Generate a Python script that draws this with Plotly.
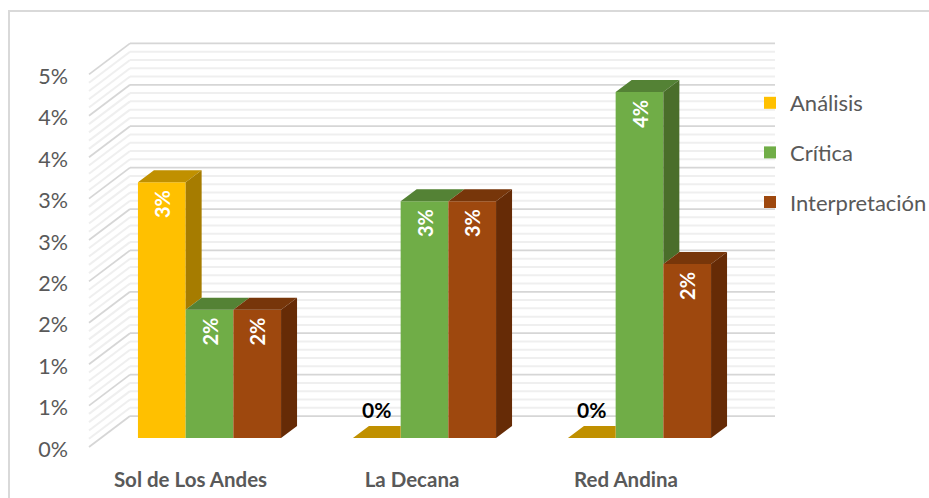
import plotly.graph_objects as go

CATEGORIES = ["Sol de Los Andes", "La Decana", "Red Andina"]
SERIES_NAMES = ["Análisis", "Crítica", "Interpretación"]
ANALISIS = [3.09, 0, 0]
CRITICA = [1.55, 2.86, 4.18]
INTERPRETACION = [1.55, 2.86, 2.10]
VALUE_LABELS = [["3%", "0%", "0%"], ["2%", "3%", "4%"], ["2%", "3%", "2%"]]
Y_TICKS = [0, 0.5, 1, 1.5, 2, 2.5, 3, 3.5, 4, 4.5]
Y_TICK_LABELS = ["0%", "1%", "1%", "2%", "2%", "3%", "3%", "4%", "4%", "5%"]

FRONT = ["#FFC000", "#70AD47", "#9E480E"]
TOP = ["#C09000", "#548235", "#77360A"]
SIDE = ["#A67C00", "#4A6E2A", "#662B06"]

# pixel scale of the axes
PX_X, PX_Y = 215.0, 82.8
ML, MB = 75, 33
W, H = 929, 498
ORIGIN_X, ORIGIN_Y = 209.5, 447.0   # pixel where x=0, y=0
ux = lambda p: p / PX_X
uy = lambda p: p / PX_Y

FLOOR = uy(9)
BAR_W = ux(47.7)
GROUP = 3 * BAR_W
BAR_DX, BAR_DY = ux(16), uy(12)
WALL_DX, WALL_DY = ux(41), uy(31)
WALL_L = ux(89 - ORIGIN_X)
WALL_R = ux(775 - ORIGIN_X)

values = [ANALISIS, CRITICA, INTERPRETACION]
fig = go.Figure()

for s, (name, vals) in enumerate(zip(SERIES_NAMES, values)):
    fig.add_bar(
        x=list(range(len(CATEGORIES))), y=vals, base=FLOOR, name=name,
        legendgroup=name, marker=dict(color=FRONT[s], line=dict(width=0)),
        text=[t + "\u00a0" if v > 0 else "" for t, v in zip(VALUE_LABELS[s], vals)],
        textposition="inside", insidetextanchor="end", textangle=-90,
        insidetextfont=dict(family="Lato", size=20, color="white", weight="bold"),
        hoverinfo="skip",
    )

for s, vals in enumerate(values):
    side_x, side_y, top_x, top_y = [], [], [], []
    for i, v in enumerate(vals):
        xl = i - GROUP / 2 + s * BAR_W
        xr = xl + BAR_W
        n = values[s + 1][i] if s + 1 < len(values) else 0
        y, ny = v + FLOOR, n + FLOOR
        if n > v:
            top_x += [xl, xr, xr, xl + BAR_DX, xl, None]
        else:
            top_x += [xl, xr, xr + BAR_DX, xl + BAR_DX, xl, None]
        top_y += [y, y, y + BAR_DY, y + BAR_DY, y, None]
        if n < v:
            side_x += [xr, xr + BAR_DX, xr + BAR_DX, xr, xr, None]
            side_y += [y, y + BAR_DY, ny + BAR_DY, ny, y, None]
    for px, py, col in ((top_x, top_y, TOP[s]), (side_x, side_y, SIDE[s])):
        if px:
            fig.add_scatter(x=px, y=py, mode="lines", fill="toself", fillcolor=col,
                            line=dict(width=0, color=col), showlegend=False,
                            hoverinfo="skip")

zero_x = [i - BAR_W for i, v in enumerate(ANALISIS) if v == 0]
zero_t = [VALUE_LABELS[0][i] for i, v in enumerate(ANALISIS) if v == 0]
fig.add_scatter(x=zero_x, y=[FLOOR + uy(25)] * len(zero_x), mode="text", text=zero_t,
                textposition="middle center", showlegend=False, hoverinfo="skip",
                textfont=dict(family="Lato", size=21, color="black", weight="bold"))

# walls' gridlines, behind the traces
shapes = []
minor_vals = [k / 10 for k in range(0, 46) if k % 5]
for vlist, col, wid in ((minor_vals, "#EFEFEF", 2), (Y_TICKS, "#D6D6D6", 1.75)):
    for v in vlist:
        for x0, y0, x1, y1 in ((WALL_L, v, WALL_L + WALL_DX, v + WALL_DY),
                               (WALL_L + WALL_DX, v + WALL_DY, WALL_R, v + WALL_DY)):
            shapes.append(dict(type="line", xref="x", yref="y", x0=x0, y0=y0, x1=x1, y1=y1,
                               layer="below", line=dict(color=col, width=wid)))
# chart frame
shapes.append(dict(type="rect", xref="paper", yref="paper", layer="below",
                   x0=(9 - ML) / (W - ML), x1=1.05, y0=-0.2,
                   y1=1 - (11) / (H - MB) ,
                   line=dict(color="#D9D9D9", width=2)))

TICK_SHIFT = [-19 / PX_X, -12.5 / PX_X, -13.5 / PX_X]
fig.update_layout(
    width=W, height=H, margin=dict(l=ML, r=0, t=0, b=MB, autoexpand=False),
    paper_bgcolor="white", plot_bgcolor="rgba(0,0,0,0)",
    barmode="group", bargap=1 - GROUP, bargroupgap=0, shapes=shapes,
    font=dict(family="Lato", color="#595959", size=20),
    legend=dict(x=(750 - ML) / (W - ML), xanchor="left", y=1 - 82 / (H - MB), yanchor="top",
                tracegroupgap=18, font=dict(size=22, color="#595959"),
                bgcolor="rgba(0,0,0,0)", borderwidth=0),
    xaxis=dict(range=[ux(ML - ORIGIN_X), ux(W - ORIGIN_X)], showgrid=False, zeroline=False,
               showline=False, ticks="", tickvals=[i + d for i, d in enumerate(TICK_SHIFT)],
               ticktext=CATEGORIES, tickfont=dict(family="Lato", size=20.5, color="#595959", weight="bold")),
    yaxis=dict(range=[uy(ORIGIN_Y - (H - MB)), uy(ORIGIN_Y)], showgrid=False, zeroline=False,
               showline=False, ticks="", tickvals=Y_TICKS, ticktext=Y_TICK_LABELS,
               ticklabelstandoff=6, ticklabelshift=2,
               tickfont=dict(family="Lato", size=21.5, color="#595959")),
)
fig.write_html("out.html", config=dict(displayModeBar=False),
               post_script="document.body.style.margin='0';")
